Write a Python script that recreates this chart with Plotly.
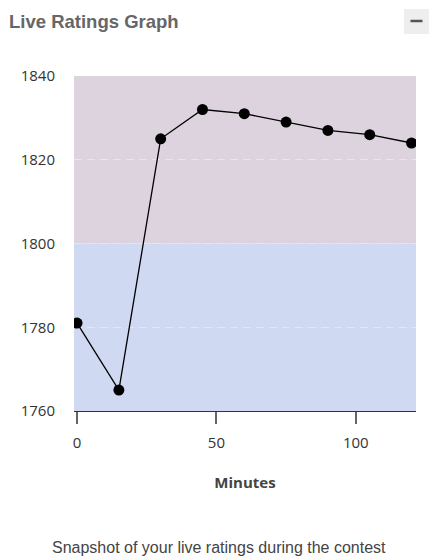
import plotly.graph_objects as go

minutes = [0, 15, 30, 45, 60, 75, 90, 105, 120]
ratings = [1781, 1765, 1825, 1832, 1831, 1829, 1827, 1826, 1824]
x_ticks = [0, 50, 100]
y_ticks = [1760, 1780, 1800, 1820, 1840]
bands = [(1760, 1800, "#cfdaf2"), (1800, 1840, "#dcd3df")]

W, H = 439, 560
L, R, T, B = 74, 23, 76, 149
pw, ph = W - L - R, H - T - B

def px(x):
    return (x - L) / pw

def py(y):
    return (H - B - y) / ph

fig = go.Figure()
fig.add_trace(go.Scatter(
    x=minutes, y=ratings, mode="lines+markers",
    line=dict(color="black", width=1.3),
    marker=dict(color="black", size=11),
    hoverinfo="x+y", showlegend=False,
))

shapes = []
for y0, y1, c in bands:
    shapes.append(dict(type="rect", xref="paper", yref="y", x0=0, x1=1, y0=y0, y1=y1,
                       fillcolor=c, line_width=0, layer="below"))
# collapse button
shapes.append(dict(type="rect", xref="paper", yref="paper", x0=px(404), x1=px(429),
                   y0=py(34), y1=py(9), fillcolor="#eeeeee", line_width=0, layer="above"))
shapes.append(dict(type="line", xref="paper", yref="paper", x0=px(410.5), x1=px(422.5),
                   y0=py(21), y1=py(21), line=dict(color="#555555", width=2.5), layer="above"))

fig.update_layout(
    width=W, height=H,
    margin=dict(l=L, r=R, t=T, b=B, autoexpand=False),
    paper_bgcolor="white", plot_bgcolor="white",
    shapes=shapes,
    font=dict(family="Open Sans, Noto Sans, sans-serif", color="#333333", size=15),
    xaxis=dict(
        range=[-1.1, 121.6], tickvals=x_ticks, showgrid=False, zeroline=False,
        showline=True, linecolor="#333333", linewidth=1.3,
        ticks="outside", ticklen=12, tickcolor="#666666", tickwidth=1.5,
        ticklabelstandoff=6,
        tickfont=dict(size=15, color="#333333"),
        title=dict(text="<b>Minutes</b>", font=dict(size=15, color="#444444"), standoff=26),
    ),
    yaxis=dict(
        range=[1760, 1840], tickvals=y_ticks, showgrid=True, gridcolor="#e6e6ec",
        griddash="8px,5px", gridwidth=1.4, zeroline=False, showline=False,
        ticks="outside", ticklen=15, tickcolor="rgba(0,0,0,0)",
        tickfont=dict(size=15, color="#333333"),
    ),
    annotations=[
        dict(text="<b>Live Ratings Graph</b>", xref="paper", yref="paper",
             x=px(7), y=py(22), xanchor="left", yanchor="middle", showarrow=False,
             font=dict(family="Liberation Sans, Arial, sans-serif", size=18.5, color="#666666")),
        dict(text="Snapshot of your live ratings during the contest", xref="paper", yref="paper",
             x=px(219), y=py(547), xanchor="center", yanchor="middle", showarrow=False,
             font=dict(family="Liberation Sans, Arial, sans-serif", size=16, color="#444444")),
    ],
)

fig.write_html("out.html")
